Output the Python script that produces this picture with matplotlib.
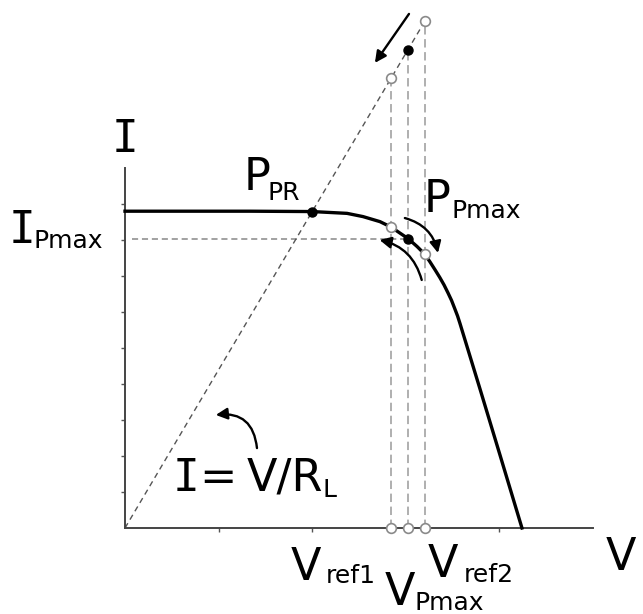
import matplotlib
matplotlib.use("Agg")
import matplotlib.pyplot as plt

# I-V characteristic of the PV source
v_curve = [0, 1.335, 2.0, 2.372, 2.543, 2.724, 2.842, 3.024, 3.12, 3.205, 3.259,
           3.313, 3.363, 3.409, 3.451, 3.489, 3.522, 3.553, 3.579, 3.793, 4.006, 4.241]
i_curve = [8.8, 8.8, 8.79, 8.74, 8.65, 8.51, 8.36, 8.04, 7.82, 7.60, 7.39,
           7.17, 6.96, 6.75, 6.53, 6.32, 6.10, 5.89, 5.68, 3.86, 2.03, 0]

# operating points
v_pr, i_pr = 2.0, 8.79
v_ref1, i_ref1 = 2.842, 8.36
v_pmax, i_pmax = 3.024, 8.04
v_ref2, i_ref2 = 3.205, 7.60

g_load = i_pr / v_pr      # 1/R_L, slope of the load line

W, H = 643, 614
fig = plt.figure(figsize=(W / 100, H / 100), dpi=100)
ax = fig.add_axes([125 / W, 86 / H, 468 / W, 360 / H])
ax.set_xlim(0, 5)
ax.set_ylim(0, 10)
for s in ["top", "right"]:
    ax.spines[s].set_visible(False)
for s in ["left", "bottom"]:
    ax.spines[s].set_color("#444444")
    ax.spines[s].set_linewidth(1.4)
ax.set_xticks([1, 2, 3, 4])
ax.set_yticks(range(1, 10))
ax.set_xticklabels([])
ax.set_yticklabels([])
ax.tick_params(length=3, width=1, color="#555555")

# load line I = V/R_L
ax.plot([0, v_ref2], [0, g_load * v_ref2], ls=(0, (4, 3)), color="#555555",
        lw=1.0, clip_on=False, zorder=2)

# reference voltages projected down to the V axis
for v in [v_ref1, v_pmax, v_ref2]:
    ax.plot([v, v], [0, g_load * v], ls=(0, (5.5, 3)), color="#9a9a9a",
            lw=1.1, clip_on=False, zorder=1)

# I_Pmax level
ax.plot([0.08, v_pmax], [i_pmax, i_pmax], ls=(0, (4, 2.5)), color="#888888",
        lw=1.1, zorder=1)

# I-V curve
ax.plot(v_curve, i_curve, color="black", lw=2.4, clip_on=False, zorder=3,
        solid_joinstyle="round")

# markers
white = dict(ls="none", marker="o", ms=7, mfc="white", mec="#8a8a8a", mew=1.2,
             clip_on=False, zorder=6)
black = dict(ls="none", marker="o", ms=6.5, color="black", clip_on=False, zorder=6)
ax.plot([v_ref1, v_ref2], [i_ref1, i_ref2], **white)
ax.plot([v_ref1, v_ref2], [g_load * v_ref1, g_load * v_ref2], **white)
ax.plot([v_ref1, v_pmax, v_ref2], [0, 0, 0], **white)
ax.plot([v_pr, v_pmax], [i_pr, i_pmax], **black)
ax.plot([v_pmax], [g_load * v_pmax], **black)

# arrows
def arrow(start, end, rad=0.0):
    ax.annotate("", xy=end, xytext=start, annotation_clip=False,
                arrowprops=dict(arrowstyle="-|>", color="black", lw=1.7,
                                mutation_scale=17, shrinkA=0, shrinkB=0,
                                connectionstyle=f"arc3,rad={rad}"))

arrow((3.034, 14.28), (2.67, 12.92))
arrow((1.41, 2.22), (0.97, 3.14), 0.5)
arrow((2.99, 8.61), (3.344, 7.64), -0.3)
arrow((3.17, 6.89), (2.72, 8.0), 0.3)

# labels (pixel positions, baseline aligned)
def put(x, y, s, size=32, family="DejaVu Sans", ha="left"):
    fig.text(x / W, 1 - y / H, s, fontsize=size, family=family, ha=ha, va="baseline")

mono = "DejaVu Sans Mono"
put(125, 152, "I", family=mono, ha="center")
put(606, 570, "V")
put(22, 243, "I", family=mono, ha="center")
put(34, 248, "Pmax", 18)
put(244, 190, "P")
put(267, 200, "PR", 18)
put(424, 212, "P")
put(451, 218, "Pmax", 18)
put(291, 580, "V")
put(326, 583, "ref1", 18)
put(385, 605, "V")
put(415, 610, "Pmax", 18)
put(428, 577, "V")
put(464, 582, "ref2", 18)
put(186, 491, "I", family=mono, ha="center")
put(199, 491, "=")
put(247, 491, "V/R")
put(322, 497, "L", 18)

fig.savefig("out.png", dpi=100)
